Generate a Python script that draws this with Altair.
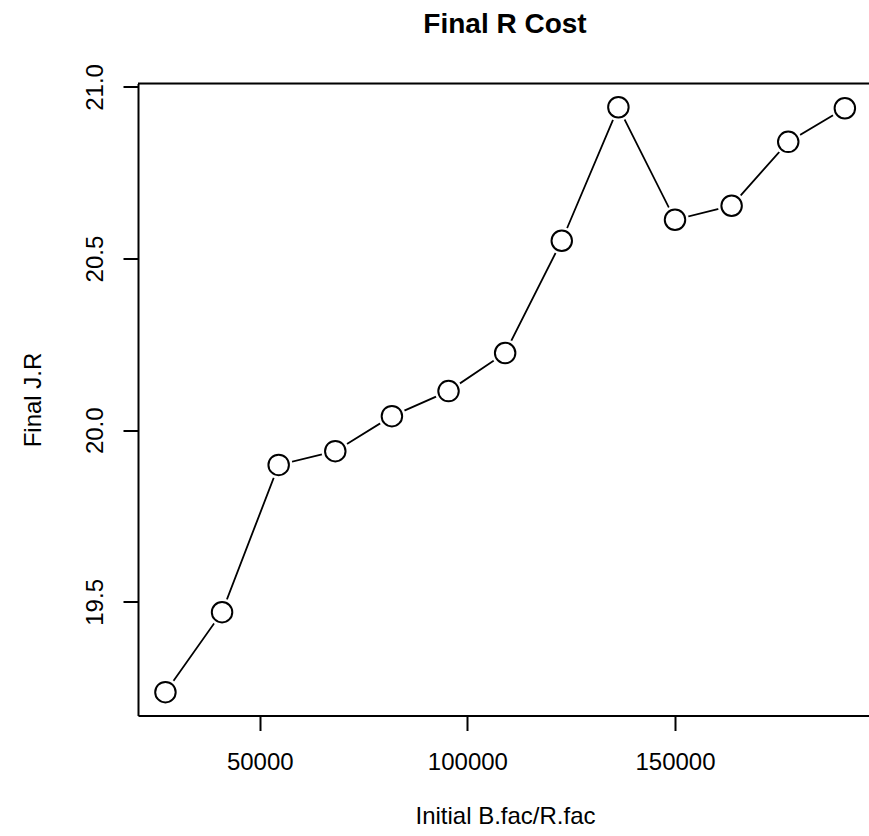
import altair as alt
import pandas as pd

# Initial B.fac/R.fac ratio tried and the final J.R cost reached for each
ratio = [27273, 40909, 54545, 68182, 81818, 95455, 109091,
         122727, 136364, 150000, 163636, 177273, 190909]
final_jr = [19.237, 19.470, 19.899, 19.939, 20.041, 20.114, 20.225,
            20.552, 20.941, 20.613, 20.654, 20.840, 20.938]

x_ticks = [50000, 100000, 150000]
y_ticks = [19.5, 20.0, 20.5, 21.0]

df = pd.DataFrame({"ratio": ratio, "final_jr": final_jr})

W, H = 731, 632
FONT = "Liberation Sans"

x_enc = alt.X(
    "ratio:Q",
    scale=alt.Scale(domain=[20665, 196724], nice=False, zero=False),
    axis=alt.Axis(
        values=x_ticks, format="d", title="Initial B.fac/R.fac",
        grid=False, domain=True, domainColor="black", domainWidth=2,
        ticks=True, tickSize=15, tickWidth=2, tickColor="black",
        labelFont=FONT, labelFontSize=24, labelColor="black", labelPadding=20,
        labelBaseline="top",
        titleFont=FONT, titleFontSize=24, titleFontWeight="normal", titleColor="black",
        titleX=367, titleY=107.5, titleBaseline="alphabetic", titleAlign="center",
    ),
)
y_enc = alt.Y(
    "final_jr:Q",
    scale=alt.Scale(domain=[19.169, 21.010], nice=False, zero=False),
    axis=alt.Axis(
        values=y_ticks, format=".1f", title="Final J.R",
        grid=False, domain=True, domainColor="black", domainWidth=2,
        ticks=True, tickSize=15, tickWidth=2, tickColor="black",
        labelFont=FONT, labelFontSize=24, labelColor="black", labelPadding=21,
        labelAngle=270, labelAlign="center", labelBaseline="alphabetic",
        titleFont=FONT, titleFontSize=24, titleFontWeight="normal", titleColor="black",
        titleX=-98, titleY=316, titleAngle=270, titleBaseline="alphabetic",
        titleAlign="center",
    ),
)

base = alt.Chart(df)

line = base.mark_line(color="black", strokeWidth=1.8).encode(x=x_enc, y=y_enc)

# white discs leave a small gap between segments and markers
halo = base.mark_point(shape="circle", filled=True, color="white", opacity=1,
                       size=760, strokeWidth=0).encode(x="ratio:Q", y="final_jr:Q")

markers = base.mark_point(shape="circle", filled=False, fill="white", fillOpacity=1,
                          stroke="black", strokeWidth=2, opacity=1,
                          size=420).encode(x="ratio:Q", y="final_jr:Q")

# top edge of the plot frame
top_edge = alt.Chart(pd.DataFrame({"k": [0]})).mark_rule(
    color="black", strokeWidth=2
).encode(x=alt.value(0), x2=alt.value(W), y=alt.value(0))

chart = alt.layer(line, halo, markers, top_edge).properties(
    width=W,
    height=H,
    title=alt.TitleParams(
        "Final R Cost", font=FONT, fontSize=28, fontWeight="bold", color="black",
        anchor="middle", frame="group", baseline="alphabetic", offset=3, dx=1.5,
    ),
    autosize=alt.AutoSizeParams(type="none"),
    padding={"left": 138, "top": 83.5, "right": 0, "bottom": 120.5},
).configure_view(stroke=None).configure(background="white")

chart.save("out.html", embed_options={"renderer": "svg", "actions": False})
